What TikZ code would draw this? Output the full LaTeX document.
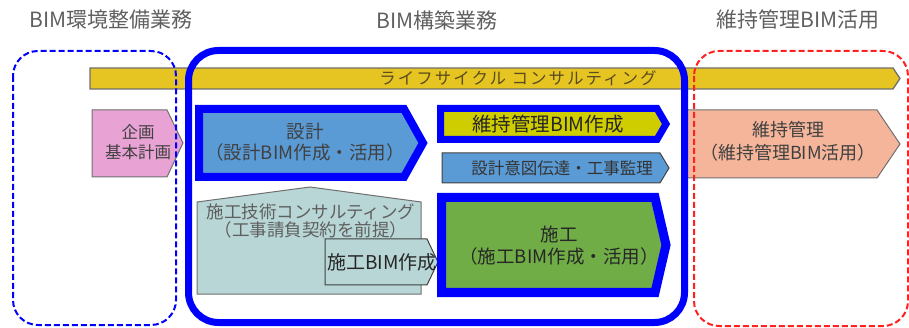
\documentclass[tikz,border=0pt]{standalone}
\usepackage{fontspec}
\setmainfont{Noto Sans CJK JP}
\definecolor{titlegray}{HTML}{5F5F5F}
\definecolor{txtgray}{HTML}{404040}
\definecolor{edgegray}{HTML}{6F6F6F}
\definecolor{barfill}{HTML}{E6C422}
\definecolor{bartext}{HTML}{5A4C1E}
\definecolor{pinkfill}{HTML}{E8A2D4}
\definecolor{salmonfill}{HTML}{F4B59A}
\definecolor{bluefill}{HTML}{5B9BD5}
\definecolor{greenfill}{HTML}{70AD47}
\definecolor{olivefill}{HTML}{CFCC00}
\definecolor{tealfill}{HTML}{B8D6D6}
\definecolor{pureblue}{HTML}{0000FF}
\definecolor{purered}{HTML}{FF2020}
\tikzset{
  titletext/.style={text=titlegray, font=\fontsize{21}{24}\selectfont, inner sep=0pt},
  boxtext/.style={text=txtgray, align=center, inner sep=0pt, font=\fontsize{18.5}{21}\selectfont},
  thinbox/.style={draw=edgegray, line width=1pt, line join=miter},
  thickbox/.style={draw=pureblue, line join=miter},
}
\begin{document}
\begin{tikzpicture}[x=1pt,y=-1pt]
\useasboundingbox (0,0) rectangle (909,328);
% life cycle bar
\draw[thinbox, fill=barfill, line width=1.3pt] (90,68) -- (893,68) -- (900,78.5) -- (893,89) -- (90,89) -- cycle;
\node[text=bartext, inner sep=0pt, font=\fontsize{16.5}{18}\selectfont\addfontfeature{LetterSpace=12}] (lcc) at (518,78.5) {ライフサイクル コンサルティング};
% pink
\draw[thinbox, fill=pinkfill] (92,110) -- (167,110) -- (183,143) -- (167,177) -- (92,177) -- cycle;
\node[boxtext, font=\fontsize{16.5}{20}\selectfont] (kikaku) at (138,142.5) {企画\\基本計画};
% salmon
\draw[thinbox, fill=salmonfill] (684,110) -- (877,110) -- (900,144) -- (877,178) -- (684,178) -- cycle;
\node[boxtext, font=\fontsize{18}{23}\selectfont] (iji) at (788,141.5) {維持管理\\（維持管理BIM活用）};
% design
\draw[thickbox, fill=bluefill, line width=8pt] (199,109) -- (404,109) -- (423,143) -- (404,177) -- (199,177) -- cycle;
\node[boxtext] (sekkei) at (305,142.5) {設計\\（設計BIM作成・活用）};
% construction consulting
\draw[thinbox, fill=tealfill] (197,202) -- (310,187) -- (421,202) -- (421,294) -- (197,294) -- cycle;
\node[boxtext, text=titlegray, font=\fontsize{17.5}{18}\selectfont] (sekoucons) at (311,221) {施工技術コンサルティング\\（工事請負契約を前提）};
\draw[draw=txtgray, line width=1pt, fill=tealfill] (325,239) -- (427,239) -- (438,262) -- (427,285) -- (325,285) -- cycle;
\node[text=black!85, inner sep=0pt, font=\fontsize{19}{20}\selectfont] (sekoubim) at (382,262) {施工BIM作成};
% maintenance BIM
\draw[thickbox, fill=olivefill, line width=7pt] (440.5,108.5) -- (657,108.5) -- (666,124) -- (657,139.5) -- (440.5,139.5) -- cycle;
\node[text=black!85, inner sep=0pt, font=\fontsize{19.5}{20}\selectfont] (ijibim) at (548,124) {維持管理BIM作成};
% design intent
\draw[thinbox, draw=txtgray, fill=bluefill] (442,153) -- (660,153) -- (669,168) -- (660,183) -- (442,183) -- cycle;
\node[text=black!80, inner sep=0pt, font=\fontsize{16.5}{18}\selectfont] (ito) at (562,168) {設計意図伝達・工事監理};
% construction
\draw[thickbox, fill=greenfill, line width=9pt] (441.5,197.5) -- (655,197.5) -- (666,245) -- (655,292.5) -- (441.5,292.5) -- cycle;
\node[boxtext, text=black!85, font=\fontsize{18.5}{22}\selectfont] (sekou) at (559,246) {施工\\（施工BIM作成・活用）};
% frames
\draw[pureblue, line width=7pt, rounded corners=30pt] (188.5,50.5) rectangle (684.5,322.5);
\draw[pureblue, line width=2pt, dash pattern=on 6pt off 3pt, rounded corners=25pt] (13,51) rectangle (176,325);
\draw[purered, line width=2pt, dash pattern=on 6pt off 3pt, rounded corners=25pt] (694,51) rectangle (908,326);
% titles
\node[titletext] (t1) at (111,20) {BIM環境整備業務};
\node[titletext] (t2) at (437,20) {BIM構築業務};
\node[titletext] (t3) at (798,20) {維持管理BIM活用};
\end{tikzpicture}
\end{document}
